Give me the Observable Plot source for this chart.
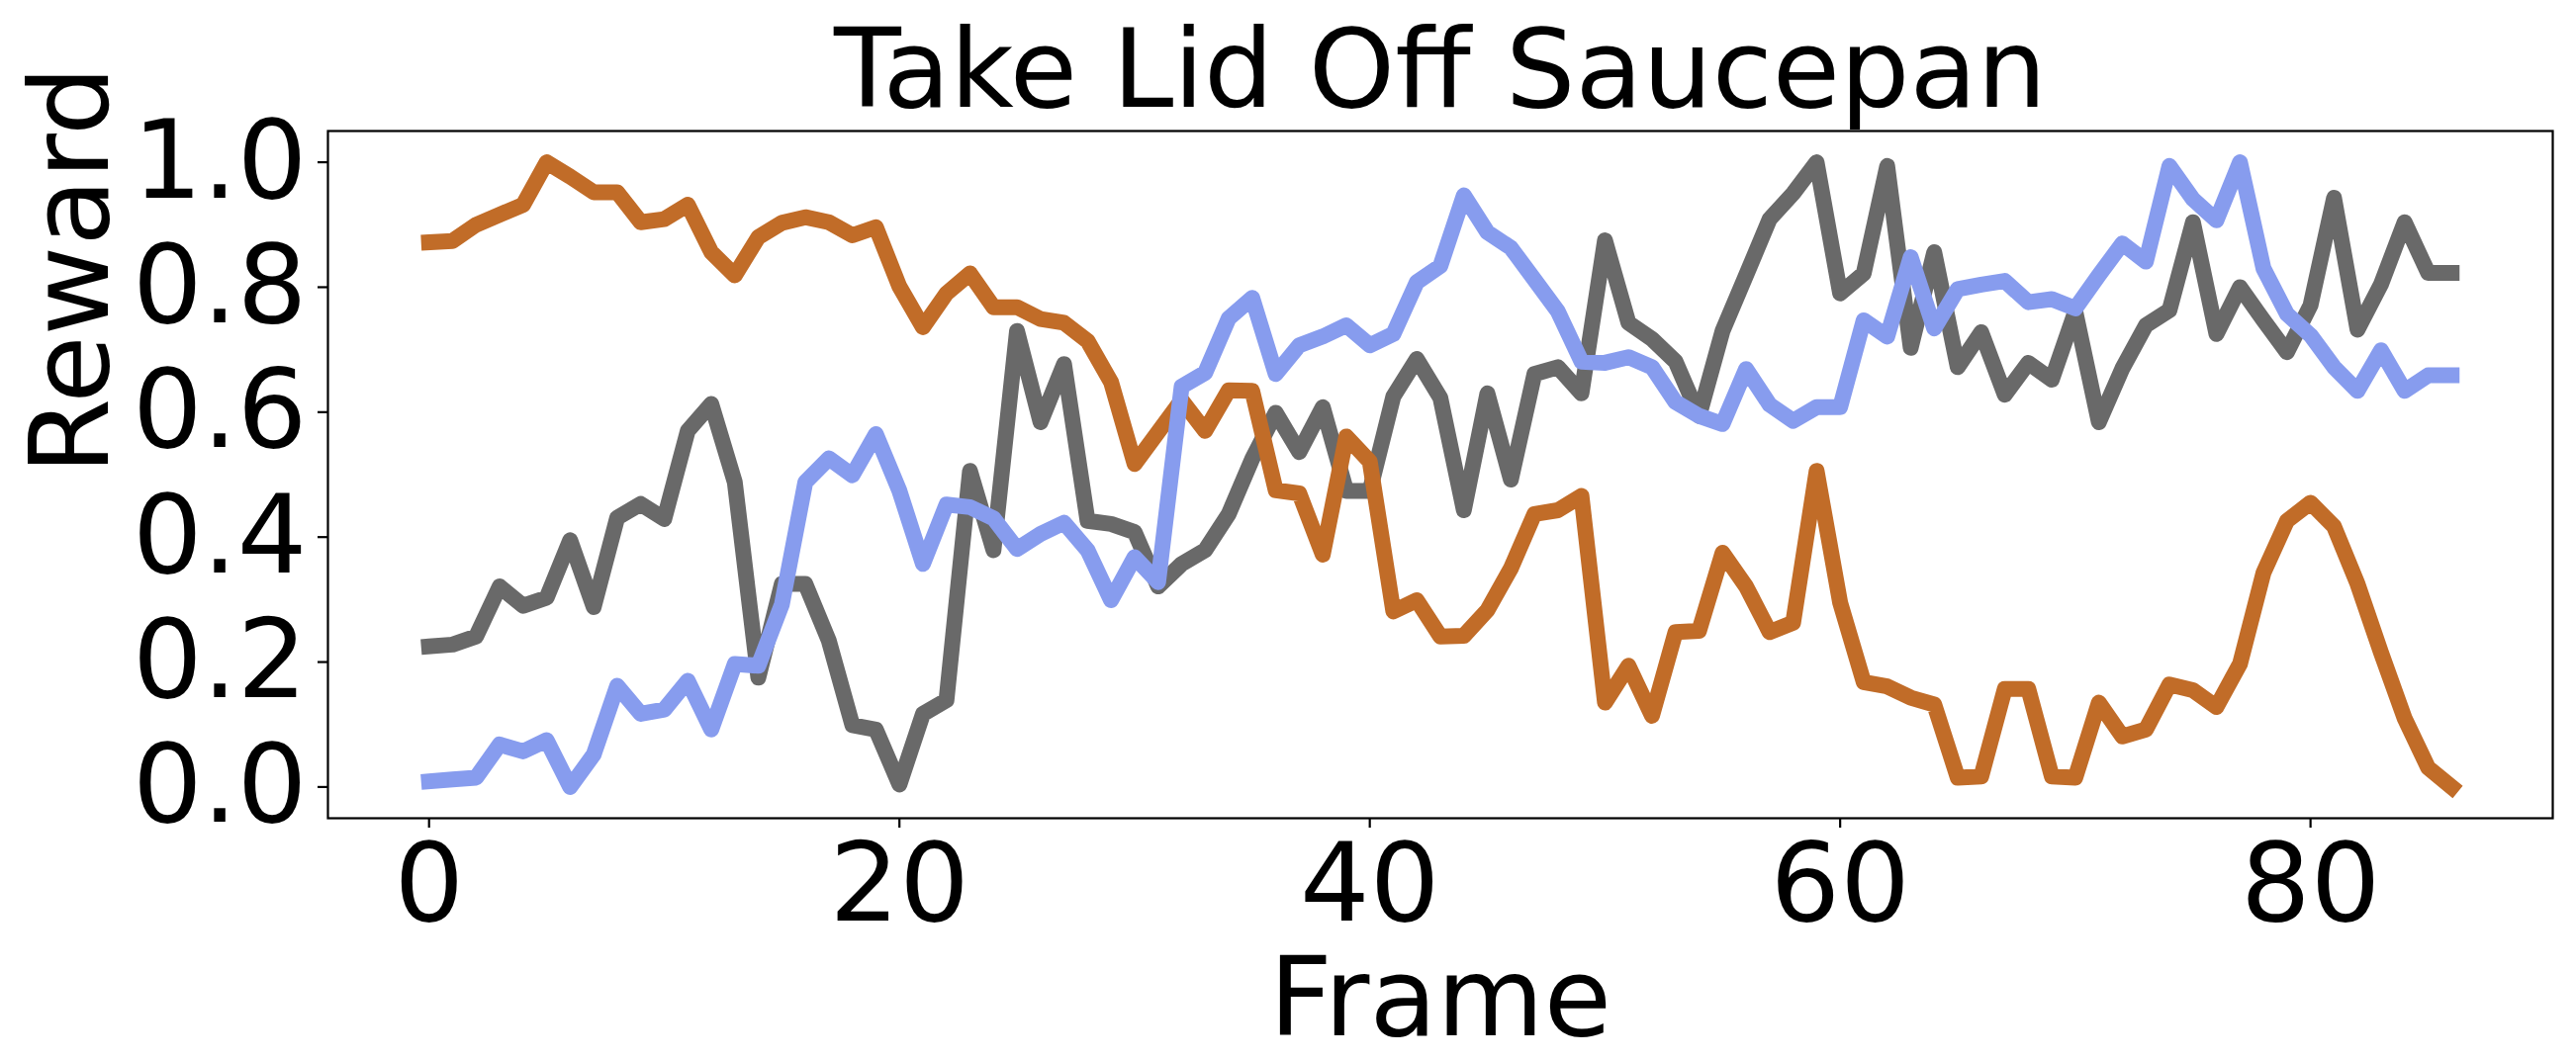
<!DOCTYPE html>
<html>
<head>
<meta charset="utf-8">
<script src="https://cdn.jsdelivr.net/npm/d3@7"></script>
<script src="https://cdn.jsdelivr.net/npm/@observablehq/plot@0.6"></script>
<style>
  html, body { margin: 0; padding: 0; background: #ffffff; }
  #chart svg { display: block; }
</style>
</head>
<body>
<div id="chart"></div>
<script>
const title = "Take Lid Off Saucepan";
const xLabel = "Frame";
const yLabel = "Reward";
const xTicks = [0, 20, 40, 60, 80];
const yTicks = [0.0, 0.2, 0.4, 0.6, 0.8, 1.0];
const seriesNames = ["series A", "series B", "series C"];
const seriesColors = ["#696969", "#C16C28", "#879CEE"];

const orangeValues = [
  0.872, 0.874, 0.900, 0.916, 0.932, 1.000, 0.977, 0.952, 0.952, 0.904,
  0.909, 0.932, 0.856, 0.819, 0.880, 0.903, 0.912, 0.904, 0.883, 0.896,
  0.801, 0.736, 0.790, 0.822, 0.768, 0.768, 0.749, 0.743, 0.714, 0.648,
  0.517, 0.568, 0.619, 0.570, 0.635, 0.634, 0.475, 0.470, 0.372, 0.561,
  0.521, 0.281, 0.299, 0.241, 0.242, 0.283, 0.350, 0.437, 0.443, 0.466,
  0.135, 0.194, 0.114, 0.248, 0.250, 0.375, 0.321, 0.248, 0.263, 0.506,
  0.295, 0.168, 0.161, 0.143, 0.132, 0.015, 0.017, 0.157, 0.157, 0.017,
  0.015, 0.135, 0.081, 0.092, 0.164, 0.155, 0.128, 0.197, 0.343, 0.426,
  0.455, 0.417, 0.325, 0.215, 0.110, 0.031, 0.000
];
const grayValues = [
  0.225, 0.228, 0.241, 0.321, 0.290, 0.303, 0.395, 0.288, 0.431, 0.453,
  0.429, 0.570, 0.613, 0.488, 0.175, 0.325, 0.325, 0.234, 0.099, 0.092,
  0.004, 0.117, 0.139, 0.506, 0.379, 0.730, 0.584, 0.677, 0.426, 0.421,
  0.408, 0.321, 0.357, 0.379, 0.437, 0.525, 0.599, 0.536, 0.608, 0.474,
  0.474, 0.625, 0.685, 0.623, 0.443, 0.630, 0.492, 0.661, 0.672, 0.630,
  0.875, 0.743, 0.717, 0.681, 0.594, 0.730, 0.819, 0.909, 0.950, 1.000,
  0.790, 0.822, 0.994, 0.703, 0.856, 0.672, 0.728, 0.628, 0.679, 0.652,
  0.761, 0.584, 0.670, 0.739, 0.763, 0.904, 0.725, 0.800, 0.747, 0.696,
  0.771, 0.943, 0.732, 0.805, 0.904, 0.823, 0.823
];
const blueValues = [
  0.009, 0.012, 0.015, 0.068, 0.057, 0.075, 0.000, 0.052, 0.162, 0.117,
  0.124, 0.170, 0.092, 0.197, 0.194, 0.292, 0.488, 0.526, 0.499, 0.565,
  0.474, 0.357, 0.452, 0.448, 0.430, 0.381, 0.405, 0.423, 0.379, 0.299,
  0.368, 0.328, 0.641, 0.663, 0.750, 0.783, 0.661, 0.707, 0.721, 0.739,
  0.707, 0.725, 0.808, 0.834, 0.947, 0.888, 0.863, 0.812, 0.761, 0.681,
  0.679, 0.688, 0.672, 0.616, 0.594, 0.581, 0.669, 0.612, 0.586, 0.608,
  0.608, 0.747, 0.721, 0.848, 0.734, 0.797, 0.804, 0.810, 0.776, 0.781,
  0.766, 0.819, 0.870, 0.841, 0.994, 0.941, 0.907, 1.000, 0.830, 0.757,
  0.723, 0.672, 0.634, 0.699, 0.634, 0.659, 0.659
];

const seriesValues = [grayValues, orangeValues, blueValues];
const rows = seriesNames.flatMap((name, k) =>
  seriesValues[k].map((v, i) => ({series: name, frame: i, value: v}))
);

const FS = 111;
const chart = Plot.plot({
  width: 2604,
  height: 1072,
  marginLeft: 331,
  marginRight: 24,
  marginTop: 132,
  marginBottom: 245,
  style: {fontFamily: "DejaVu Sans", color: "black", background: "white"},
  x: {domain: [-4.3, 90.3]},
  y: {domain: [-0.05, 1.05]},
  color: {type: "ordinal", domain: seriesNames, range: seriesColors},
  marks: [
    Plot.line(rows, {
      x: "frame", y: "value", z: "series", stroke: "series",
      strokeWidth: 16, strokeLinecap: "square", strokeLinejoin: "round"
    }),
    Plot.frame({stroke: "black", strokeWidth: 2.2}),
    Plot.axisX({
      ticks: xTicks, tickSize: 10, tickPadding: 15, strokeWidth: 2.2,
      fontSize: FS, label: null, tickFormat: d => String(d)
    }),
    Plot.axisY({
      ticks: yTicks, tickSize: 10, tickPadding: 11, strokeWidth: 2.2,
      fontSize: FS, label: null, tickFormat: d3.format(".1f")
    }),
    Plot.text([title], {frameAnchor: "top", dy: -25, lineAnchor: "bottom", fontSize: FS, fill: "black"}),
    Plot.text([xLabel], {frameAnchor: "bottom", dy: 219, lineAnchor: "bottom", fontSize: FS, fill: "black"}),
    Plot.text([yLabel], {frameAnchor: "left", dx: -223, rotate: -90, lineAnchor: "bottom", fontSize: FS, fill: "black"})
  ]
});
document.getElementById("chart").appendChild(chart);
</script>
</body>
</html>
